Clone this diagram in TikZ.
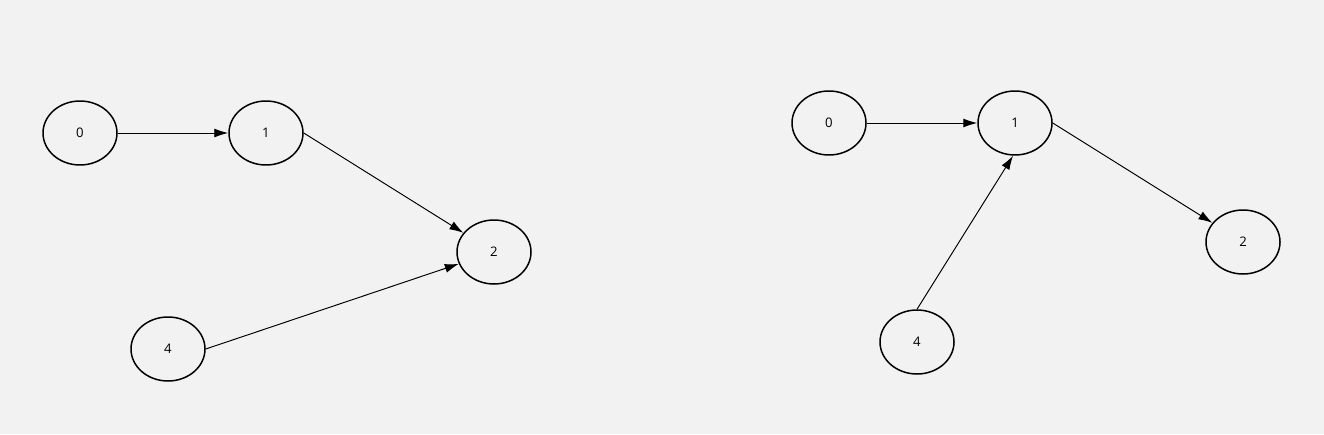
\documentclass[tikz,border=0pt]{standalone}
\usepackage{fontspec}
\setmainfont{Open Sans}
\usetikzlibrary{arrows.meta}
\usetikzlibrary{shapes.geometric}
\definecolor{bggray}{HTML}{F2F2F2}
\tikzset{
vert/.style={draw,
  ellipse,
    line width=0.85pt,
    minimum width=1.48cm,
    minimum height=1.28cm,
    inner sep=0pt,
    font=\fontsize{7.5}{9}\selectfont},
edge/.style={-{Latex[length=0.28cm,width=0.18cm]},
  line width=0.55pt},
}
\begin{document}
\begin{tikzpicture}

  % background
  \fill [bggray] (0,0) rectangle (26.48,8.68);
  \useasboundingbox (0,0) rectangle (26.48,8.68);

  % Nodes, first graph
  \node [vert] (l0) at (1.60,6.02) {0};
  \node [vert] (l1) at (5.32,6.02) {1};
  \node [vert] (l2) at (9.88,3.64) {2};
  \node [vert] (l4) at (3.36,1.70) {4};

  % Nodes, second graph
  \node [vert] (r0) at (16.58,6.22) {0};
  \node [vert] (r1) at (20.30,6.22) {1};
  \node [vert] (r2) at (24.86,3.84) {2};
  \node [vert] (r4) at (18.34,1.84) {4};

  % Edges
  \draw [edge] (l0.east) -- (l1.west);
  \draw [edge] (l1.east) -- (l2);
  \draw [edge] (l4.east) -- (l2);

  \draw [edge] (r0.east) -- (r1.west);
  \draw [edge] (r1.east) -- (r2);
  \draw [edge] (r4.north) -- ([xshift=-0.04cm]r1.south);
\end{tikzpicture}
\end{document}
